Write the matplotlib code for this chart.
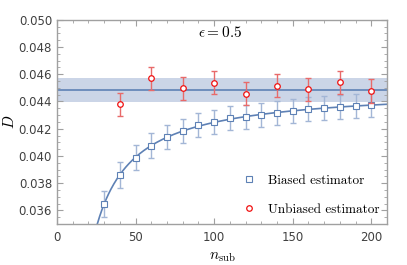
import matplotlib
matplotlib.use('Agg')
import matplotlib.pyplot as plt
import numpy as np
from matplotlib.ticker import MultipleLocator, FormatStrFormatter

plt.rcParams['mathtext.fontset'] = 'cm'

# biased estimator points
n_biased = [30, 40, 50, 60, 70, 80, 90, 100, 110, 120, 130, 140, 150, 160, 170, 180, 190, 200]
d_biased = [0.03649, 0.03858, 0.03986, 0.04076, 0.04140, 0.04182, 0.04226, 0.04250, 0.04276,
            0.04288, 0.04300, 0.04312, 0.04330, 0.04342, 0.04354, 0.04359, 0.04366, 0.04374]
err_biased = [0.00095, 0.00095, 0.00092, 0.00090, 0.00090, 0.00088, 0.00088, 0.00088, 0.00088,
              0.00088, 0.00088, 0.00088, 0.00088, 0.00088, 0.00088, 0.00088, 0.00088, 0.00088]

# unbiased estimator points
n_unbiased = [40, 60, 80, 100, 120, 140, 160, 180, 200]
d_unbiased = [0.04381, 0.04570, 0.04497, 0.04538, 0.04457, 0.04516, 0.04489, 0.04541, 0.04477]
err_unbiased = [0.00085, 0.00086, 0.00086, 0.00086, 0.00086, 0.00086, 0.00086, 0.00086, 0.00086]

# combined estimate (line + band)
d_mean = 0.04484
d_band = 0.00086

blue = '#5e81b5'
blue_err = '#a3b6d6'
red = '#f01010'
red_err = '#e86a6a'

fig = plt.figure(figsize=(4.07, 2.65), dpi=100)
ax = fig.add_axes([0.140, 0.155, 0.811, 0.770])

ax.axhspan(d_mean - d_band, d_mean + d_band, color='#cbd5e7', lw=0, zorder=0)
ax.axhline(d_mean, color=blue, lw=1.2, zorder=1)

# fit curve through the biased points (quadratic in 1/n)
inv = 1.0 / np.array(n_biased)
coef = np.polyfit(inv, d_biased, 2)
nn = np.linspace(20, 210, 400)
ax.plot(nn, np.polyval(coef, 1.0 / nn), color=blue, lw=1.2, zorder=2)

ax.errorbar(n_biased, d_biased, yerr=err_biased, fmt='none', ecolor=blue_err,
            elinewidth=1, capsize=2, capthick=1, zorder=3)
ax.plot(n_biased, d_biased, 's', ms=4, mfc='white', mec=blue, mew=0.8, zorder=4,
        label='Biased estimator')

ax.errorbar(n_unbiased, d_unbiased, yerr=err_unbiased, fmt='none', ecolor=red_err,
            elinewidth=1, capsize=2, capthick=1, zorder=5)
ax.plot(n_unbiased, d_unbiased, 'o', ms=4, mfc='white', mec=red, mew=0.9, zorder=6,
        label='Unbiased estimator')

ax.set_xlim(0, 210)
ax.set_ylim(0.035, 0.050)
ax.xaxis.set_major_locator(MultipleLocator(50))
ax.xaxis.set_minor_locator(MultipleLocator(10))
ax.yaxis.set_major_locator(MultipleLocator(0.002))
ax.yaxis.set_minor_locator(MultipleLocator(0.0005))
ax.yaxis.set_major_formatter(FormatStrFormatter('%.3f'))

for s in ax.spines.values():
    s.set_color('#a0a0a0')
    s.set_linewidth(1.0)
ax.tick_params(which='both', direction='in', top=True, right=True, color='#a0a0a0',
               labelcolor='#404040', labelsize=8.5)
ax.tick_params(which='major', length=4)
ax.tick_params(which='minor', length=2)
ax.tick_params(axis='x', pad=5)

ax.set_xlabel(r'$n_{\rm sub}$', fontsize=11)
ax.set_ylabel(r'$D$', fontsize=11)
ax.yaxis.set_label_coords(-0.12, 0.5)
ax.text(104, 0.04905, r'$\epsilon = 0.5$', fontsize=11, ha='center', va='center')

ax.legend(loc='lower right', frameon=False, prop={'family': 'cmr10', 'size': 9.5},
          handlelength=1.2, handletextpad=0.8, labelspacing=1.3, borderaxespad=0.2)

fig.savefig('out.png', dpi=100)
